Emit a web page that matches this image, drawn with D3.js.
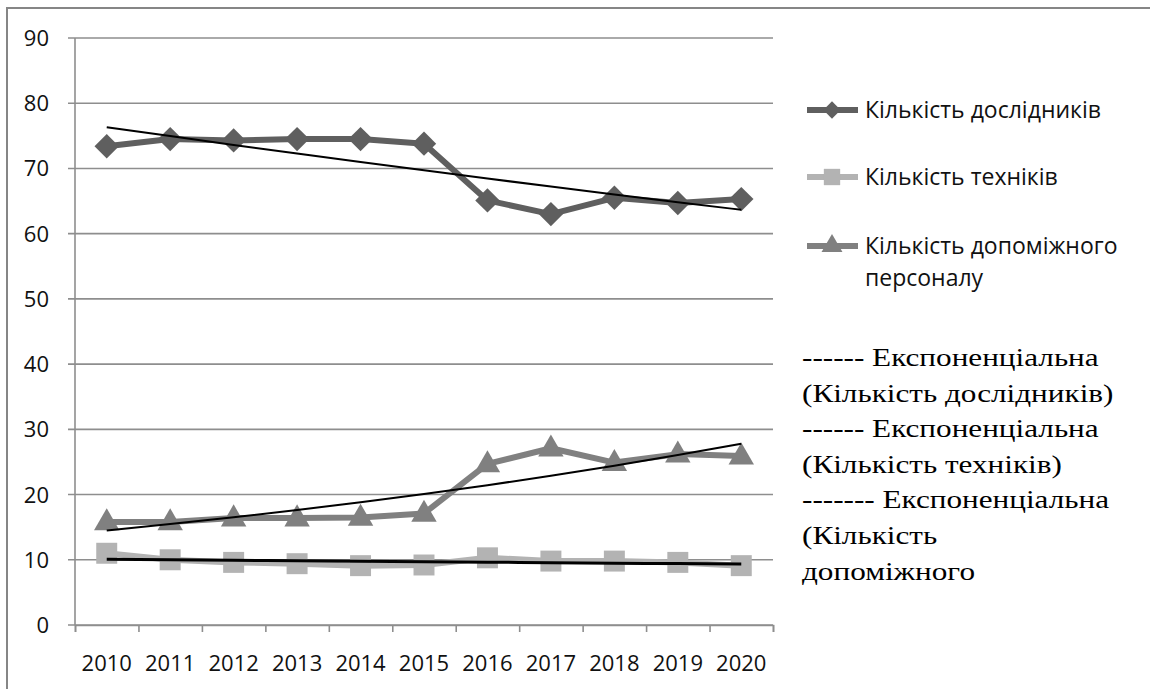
<!DOCTYPE html>
<html>
<head>
<meta charset="utf-8">
<script src="https://cdn.jsdelivr.net/npm/d3@7"></script>
<style>
  html, body { margin: 0; padding: 0; background: #fff; }
  svg { display: block; }
</style>
</head>
<body>
<svg id="chart" width="1150" height="689"></svg>
<script>
// Роки спостереження
const years = ["2010","2011","2012","2013","2014","2015","2016","2017","2018","2019","2020"];
// Кількість дослідників
const researchers = [73.4, 74.5, 74.3, 74.5, 74.5, 73.8, 65.1, 63.0, 65.5, 64.7, 65.3];
// Кількість техніків
const technicians = [11.0, 10.0, 9.6, 9.4, 9.1, 9.2, 10.3, 9.8, 9.8, 9.6, 9.1];
// Кількість допоміжного персоналу
const support = [15.8, 15.8, 16.4, 16.4, 16.5, 17.1, 24.7, 27.1, 24.9, 26.2, 25.9];
// Поділки осі Y
const yTicks = [0, 10, 20, 30, 40, 50, 60, 70, 80, 90];

const seriesNames = ["Кількість дослідників", "Кількість техніків", "Кількість допоміжного персоналу"];
const trendLegend = [
  ["------ Експоненціальна", "(Кількість дослідників)"],
  ["------ Експоненціальна", "(Кількість техніків)"],
  ["------- Експоненціальна", "(Кількість", "допоміжного"]
];

const svg = d3.select("#chart");
const sansFont = "'Open Sans', sans-serif";

const plot = { left: 75, right: 773, top: 38, bottom: 625 };
const x = d3.scaleLinear().domain([0, years.length]).range([plot.left, plot.right]);
const y = d3.scaleLinear().domain([0, 90]).range([plot.bottom, plot.top]);
const cx = i => x(i + 0.5);

// рамка
svg.append("rect")
  .attr("x", 7).attr("y", 8).attr("width", 1160).attr("height", 700)
  .attr("fill", "none").attr("stroke", "#868686").attr("stroke-width", 2);

// сітка
svg.append("g").selectAll("line").data(yTicks).join("line")
  .attr("x1", plot.left - 7).attr("x2", plot.right)
  .attr("y1", d => y(d)).attr("y2", d => y(d))
  .attr("stroke", "#8e8e8e").attr("stroke-width", 1.6);

// вісь Y
svg.append("line")
  .attr("x1", plot.left).attr("x2", plot.left)
  .attr("y1", y(90)).attr("y2", plot.bottom)
  .attr("stroke", "#8e8e8e").attr("stroke-width", 1.6);

svg.append("g").selectAll("text").data(yTicks).join("text")
  .attr("x", 49).attr("y", d => y(d) + 8)
  .attr("text-anchor", "end")
  .attr("font-family", sansFont).attr("font-size", 22)
  .attr("fill", "#111")
  .text(d => d);

// вісь X
const xAxis = d3.axisBottom(x)
  .tickValues(d3.range(0, years.length + 1))
  .tickSize(7).tickFormat("");
const gx = svg.append("g").attr("transform", `translate(0,${plot.bottom})`).call(xAxis);
gx.select(".domain").attr("stroke", "#8e8e8e").attr("stroke-width", 1.6);
gx.selectAll(".tick line").attr("stroke", "#8e8e8e").attr("stroke-width", 1.6);

svg.append("g").selectAll("text").data(years).join("text")
  .attr("x", (d, i) => cx(i)).attr("y", plot.bottom + 46)
  .attr("text-anchor", "middle")
  .attr("font-family", sansFont).attr("font-size", 22)
  .attr("fill", "#111")
  .text(d => d);

// експоненціальна лінія тренду (регресія ln y на номер року)
function expTrend(vals) {
  const n = vals.length;
  const xs = d3.range(n);
  const ls = vals.map(v => Math.log(v));
  const mx = d3.mean(xs), ml = d3.mean(ls);
  const b = d3.sum(xs, (xi, i) => (xi - mx) * (ls[i] - ml)) / d3.sum(xs, xi => (xi - mx) ** 2);
  const a = ml - b * mx;
  return xs.map(xi => Math.exp(a + b * xi));
}

const series = [
  { name: seriesNames[0], vals: researchers, color: "#5f5f5f", marker: "diamond", trendW: 2 },
  { name: seriesNames[1], vals: technicians, color: "#b3b3b3", marker: "square", trendW: 3 },
  { name: seriesNames[2], vals: support, color: "#808080", marker: "triangle", trendW: 2 }
];

const symbolType = { diamond: d3.symbolDiamond2, square: d3.symbolSquare2, triangle: d3.symbolTriangle };
const plotSize = { diamond: 380, square: 560, triangle: 280 };
const legendSize = { diamond: 190, square: 340, triangle: 190 };

const line = d3.line().x((d, i) => cx(i)).y(d => y(d));

// ряди: лінії та маркери
[series[1], series[2], series[0]].forEach(s => {
  svg.append("path").datum(s.vals)
    .attr("d", line)
    .attr("fill", "none").attr("stroke", s.color)
    .attr("stroke-width", 6).attr("stroke-linejoin", "round");
  svg.append("g").selectAll("path").data(s.vals).join("path")
    .attr("transform", (d, i) => `translate(${cx(i)},${y(d) + (s.marker === "triangle" ? 1 : 0)})`)
    .attr("d", d3.symbol().type(symbolType[s.marker]).size(plotSize[s.marker])())
    .attr("fill", s.color);
});

// тренди поверх рядів
series.forEach(s => {
  svg.append("path").datum(expTrend(s.vals))
    .attr("d", d3.line().x((d, i) => cx(i)).y(d => y(d)).curve(d3.curveMonotoneX))
    .attr("fill", "none").attr("stroke", "#000").attr("stroke-width", s.trendW);
});

// легенда рядів
const legY = [110, 177, 246];
series.forEach((s, k) => {
  const g = svg.append("g");
  g.append("line")
    .attr("x1", 807).attr("x2", 858).attr("y1", legY[k]).attr("y2", legY[k])
    .attr("stroke", s.color).attr("stroke-width", 6);
  g.append("path")
    .attr("transform", `translate(832,${legY[k]})`)
    .attr("d", d3.symbol().type(symbolType[s.marker]).size(legendSize[s.marker])())
    .attr("fill", s.color);
});

const legText = [["Кількість дослідників"], ["Кількість техніків"], ["Кількість допоміжного", "персоналу"]];
legText.forEach((lines, k) => {
  lines.forEach((t, j) => {
    svg.append("text")
      .attr("x", 865).attr("y", legY[k] + 8 + j * 32)
      .attr("font-family", sansFont).attr("font-size", 23)
      .attr("fill", "#111")
      .text(t);
  });
});

// легенда трендів
const trendLines = trendLegend.flat();
svg.append("g").selectAll("text").data(trendLines).join("text")
  .attr("transform", (d, i) => `translate(802,${366 + i * 35.6}) scale(1.2,1)`)
  .attr("font-family", "'Liberation Serif', 'Times New Roman', serif").attr("font-size", 26)
  .attr("fill", "#000")
  .text(d => d);
</script>
</body>
</html>
